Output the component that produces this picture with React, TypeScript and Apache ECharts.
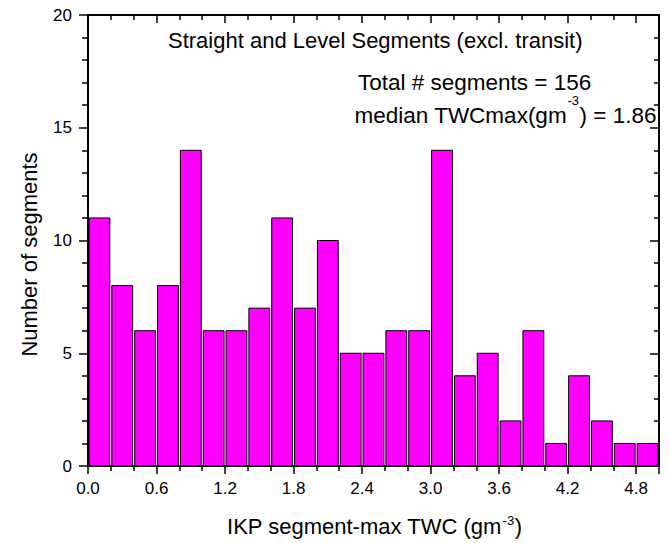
import React, { useEffect, useRef } from "react";
import * as echarts from "echarts";

const binStarts = [0.0, 0.2, 0.4, 0.6, 0.8, 1.0, 1.2, 1.4, 1.6, 1.8, 2.0, 2.2, 2.4, 2.6, 2.8, 3.0, 3.2, 3.4, 3.6, 3.8, 4.0, 4.2, 4.4, 4.6, 4.8];
const binWidth = 0.2;
const counts = [11, 8, 6, 8, 14, 6, 6, 7, 11, 7, 10, 5, 5, 6, 6, 14, 4, 5, 2, 6, 1, 4, 2, 1, 1];

const xTitleA = "IKP segment-max TWC (gm";
const xTitleB = ")";
const supText = "-3";
const yTitle = "Number of segments";
const annoTitle = "Straight and Level Segments (excl. transit)";
const annoTotal = "Total # segments = 156";
const annoMedianA = "median TWCmax(gm";
const annoMedianB = ") = 1.86";

const FONT = "'Liberation Sans', Arial, sans-serif";

function mkLine() {
  return { show: true, onZero: false, lineStyle: { color: "#000", width: 2 } };
}
function mkTick(len: number, inside: boolean) {
  return { show: true, inside, length: len, lineStyle: { color: "#000", width: 1.5 } };
}
function mkMinor(len: number, split: number) {
  return { show: true, splitNumber: split, length: len, lineStyle: { color: "#000", width: 1.5 } };
}
function measure(text: string, size: number) {
  const c = document.createElement("canvas").getContext("2d");
  if (!c) return text.length * size * 0.5;
  c.font = `${size}px 'Liberation Sans'`;
  return c.measureText(text).width;
}
function txt(text: string, left: number, top: number, size: number, lh: number) {
  return {
    text,
    left,
    top,
    padding: 0,
    textStyle: { fontSize: size, lineHeight: lh, fontWeight: "normal", fontFamily: FONT, color: "#000" },
  };
}

export default function App() {
  const ref = useRef<HTMLDivElement>(null);
  useEffect(() => {
    if (!ref.current) return;
    const chart = echarts.init(ref.current, null, { renderer: "svg" });
    const data = binStarts.map((s, i) => [s, +(s + binWidth).toFixed(2), counts[i]]);

    const xa = measure(xTitleA, 22);
    const xs = measure(supText, 13);
    const xb = measure(xTitleB, 22);
    const xLeft = 374.5 - (xa + xs + 1 + xb) / 2;
    const mLeft = 354.5;
    const ma = measure(annoMedianA, 22.5);
    const ms = measure(supText, 13);

    chart.setOption({
      animation: false,
      grid: { left: 88, right: 10, top: 15, bottom: 77, show: true, borderColor: "#000", borderWidth: 2, backgroundColor: "transparent" },
      title: [
        txt(annoTitle, 168, 29.5, 22, 22),
        txt(annoTotal, 358, 71.5, 22.5, 22.5),
        txt(annoMedianA, mLeft, 107, 22.5, 16),
        txt(supText, mLeft + ma + 0.5, 95, 13, 10),
        txt(annoMedianB, mLeft + ma + ms + 1, 107, 22.5, 16),
        txt(xTitleA, xLeft, 515.5, 22, 22),
        txt(supText, xLeft + xa + 0.5, 513.5, 13, 13),
        txt(xTitleB, xLeft + xa + xs + 1, 515.5, 22, 22),
      ],
      xAxis: [
        {
          type: "value",
          min: 0,
          max: 5,
          interval: 0.6,
          position: "bottom",
          splitLine: { show: false },
          axisLine: mkLine(),
          axisTick: mkTick(8, false),
          minorTick: mkMinor(5, 3),
          axisLabel: {
            formatter: (v: number) => v.toFixed(1),
            showMaxLabel: false,
            fontSize: 17,
            color: "#000",
            margin: 14,
            fontFamily: FONT,
          },
        },
        {
          type: "value",
          min: 0,
          max: 5,
          interval: 0.6,
          position: "top",
          splitLine: { show: false },
          axisLine: mkLine(),
          axisTick: mkTick(8, true),
          minorTick: mkMinor(5, 3),
          axisLabel: { show: false },
        },
      ],
      yAxis: [
        {
          type: "value",
          min: 0,
          max: 20,
          interval: 5,
          position: "left",
          splitLine: { show: false },
          axisLine: mkLine(),
          axisTick: mkTick(9, false),
          minorTick: mkMinor(6, 5),
          axisLabel: { fontSize: 17, color: "#000", margin: 16, fontFamily: FONT },
          name: yTitle,
          nameLocation: "middle",
          nameGap: 48,
          nameRotate: 90,
          nameTextStyle: { fontSize: 22, lineHeight: 22, fontFamily: FONT, color: "#000", padding: [0, 28, 0, 0] },
        },
        {
          type: "value",
          min: 0,
          max: 20,
          interval: 5,
          position: "right",
          splitLine: { show: false },
          axisLine: mkLine(),
          axisTick: mkTick(9, true),
          minorTick: mkMinor(5, 5),
          axisLabel: { show: false },
        },
      ],
      series: [
        {
          type: "custom",
          xAxisIndex: 0,
          yAxisIndex: 0,
          data,
          renderItem: (params: any, api: any) => {
            const p0 = api.coord([api.value(0), api.value(2)]);
            const p1 = api.coord([api.value(1), 0]);
            return {
              type: "rect",
              shape: { x: p0[0] + 1, y: p0[1], width: p1[0] - p0[0] - 2, height: p1[1] - p0[1] },
              style: { fill: "#ff00ff", stroke: "#000", lineWidth: 1 },
            };
          },
        },
      ],
    });
    return () => chart.dispose();
  }, []);
  return (
    <div
      ref={ref}
      style={{ position: "fixed", left: 0, top: 0, width: 669, height: 543, background: "#fff" }}
    />
  );
}
